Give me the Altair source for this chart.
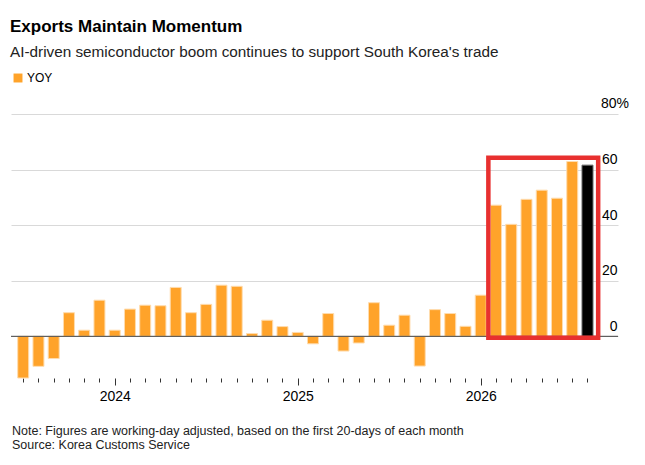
import altair as alt
import pandas as pd

# ---- data ----
months = [str(p) for p in pd.period_range("2023-07", "2026-08", freq="M")]
yoy = [-15.0, -10.8, -8.0, 8.5, 2.2, 13.0, 2.2, 9.8, 11.2, 11.0,
       17.6, 8.5, 11.5, 18.4, 18.0, 1.0, 5.8, 3.5, 1.4, -2.7,
       8.2, -5.3, -2.4, 12.1, 4.0, 7.6, -10.7, 9.6, 8.2, 3.6,
       14.8, 47.2, 40.3, 49.3, 52.6, 49.7, 62.9, 61.6]
latest_month = "2026-08"
y_ticks = [0, 20, 40, 60, 80]
y_top_label = "80%"
box_months = ["2026-02", "2026-08"]   # highlighted period
box_yoy = [-0.5, 64.3]

title = "Exports Maintain Momentum"
subtitle = "AI-driven semiconductor boom continues to support South Korea's trade"
footer = ["Note: Figures are working-day adjusted, based on the first 20-days of each month",
          "Source: Korea Customs Service"]

df = pd.DataFrame({"month": months, "yoy": yoy})
df["idx"] = range(len(months))
df["kind"] = ["Latest" if m == latest_month else "YOY" for m in months]

year_ticks = {i: m[:4] for i, m in enumerate(months) if m.endswith("-01")}
label_expr = "{" + ",".join(f"'{k}':'{v}'" for k, v in year_ticks.items()) + "}[toString(datum.value)] || ''"
major_test = "indexof([" + ",".join(str(k) for k in year_ticks) + "], datum.value) >= 0"

box = pd.DataFrame({
    "x": [months.index(box_months[0]) - 0.5],
    "x2": [months.index(box_months[1]) + 0.7],
    "y": [box_yoy[0]], "y2": [box_yoy[1]],
})

FONT = "Liberation Sans, Arial, sans-serif"
W, H = 607, 264

xscale = alt.Scale(domain=[-0.8, 39.0], nice=False, zero=False, padding=0)
yscale = alt.Scale(domain=[-15, 80], nice=False, zero=False, padding=0)

xaxis = alt.Axis(values=list(range(len(months))), labelExpr=label_expr,
                 domain=False, grid=False,
                 tickSize={"condition": {"test": major_test, "value": 7}, "value": 4},
                 tickColor="#333", tickWidth=1,
                 labelPadding=4, labelFontSize=14, labelColor="#000",
                 labelFontWeight="normal", labelFont=FONT, labelOverlap=False)
yaxis = alt.Axis(orient="right", values=y_ticks, domain=False, ticks=False,
                 grid=True, gridColor="#d9d9d9", gridWidth=1,
                 labelAlign="right", labelBaseline="alphabetic",
                 labelOffset=-6, labelPadding=-1,
                 labelExpr=f"datum.value == {y_ticks[-1]} ? '' : datum.label",
                 labelFontSize=14, labelColor="#000", labelFontWeight="normal",
                 labelFont=FONT)

bars = alt.Chart(df).transform_calculate(
    x0="datum.idx - 0.36", x1="datum.idx + 0.36", base="0"
).mark_bar(strokeWidth=1).encode(
    x=alt.X("x0:Q", scale=xscale, title=None, axis=xaxis),
    x2="x1:Q",
    y=alt.Y("yoy:Q", scale=yscale, title=None, axis=yaxis),
    y2="base:Q",
    color=alt.Color("kind:N",
                    scale=alt.Scale(domain=["YOY", "Latest"], range=["#ffa32a", "#000000"]),
                    legend=alt.Legend(values=["YOY"], title=None, orient="none",
                                      legendX=1, legendY=-42, padding=0,
                                      symbolType="square", symbolSize=80,
                                      symbolStrokeWidth=0, labelFontSize=12,
                                      labelOffset=3,
                                      labelFont=FONT, labelColor="#000")),
    stroke=alt.condition(alt.datum.kind == "Latest", alt.value("#666666"), alt.value("#ffdcae")),
)

zero = alt.Chart(pd.DataFrame({"y": [0]})).mark_rule(color="#444", strokeWidth=1).encode(
    y=alt.Y("y:Q", scale=yscale, title=None, axis=yaxis)
)

rect = alt.Chart(box).mark_rect(fill=None, fillOpacity=0, stroke="#e8302f", strokeWidth=4.5).encode(
    x=alt.X("x:Q", scale=xscale, title=None, axis=xaxis), x2="x2:Q",
    y=alt.Y("y:Q", scale=yscale, title=None, axis=yaxis), y2="y2:Q",
)

top_label = alt.Chart(pd.DataFrame({"v": [y_ticks[-1]], "t": [y_top_label]})).mark_text(
    align="left", baseline="alphabetic", fontSize=14, font=FONT, color="#000", dy=-6
).encode(text="t:N", x=alt.value(W - 17),
         y=alt.Y("v:Q", scale=yscale, title=None, axis=yaxis))

foot = alt.Chart(pd.DataFrame({"t": ["\n".join(footer)]})).mark_text(
    align="left", baseline="alphabetic", fontSize=12.5, font=FONT, color="#222",
    lineBreak="\n", lineHeight=14.3
).encode(text="t:N", x=alt.value(1), y=alt.value(H + 57))

chart = alt.layer(bars, zero, rect, top_label, foot).properties(
    width=W, height=H,
    autosize=alt.AutoSizeParams(type="none"),
    padding={"left": 3, "top": 106, "right": 19, "bottom": 79},
    title=alt.TitleParams(text=title, subtitle=subtitle, anchor="start", frame="group",
                          offset=11, dx=-1, font=FONT, fontSize=17, fontWeight="bold",
                          color="#000", subtitleFont=FONT, subtitleFontSize=15.3,
                          subtitleColor="#222", subtitlePadding=9),
).configure_view(stroke=None)

chart.save("out.html", embed_options={"renderer": "svg", "actions": False})
